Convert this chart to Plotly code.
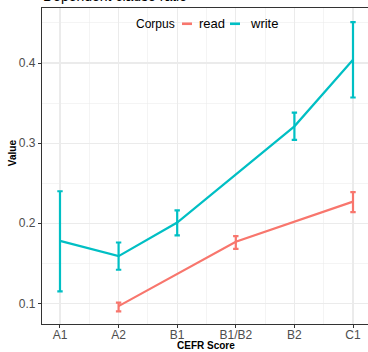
import plotly.graph_objects as go

# ---- data ----
categories = ["A1", "A2", "B1", "B1/B2", "B2", "C1"]

write_levels = ["A1", "A2", "B1", "B2", "C1"]
write_mean = [0.178, 0.159, 0.201, 0.321, 0.404]
write_lo = [0.115, 0.142, 0.185, 0.304, 0.357]
write_hi = [0.240, 0.176, 0.216, 0.338, 0.451]

read_levels = ["A2", "B1/B2", "C1"]
read_mean = [0.0966, 0.177, 0.227]
read_lo = [0.090, 0.168, 0.214]
read_hi = [0.101, 0.184, 0.239]

y_ticks = [0.1, 0.2, 0.3, 0.4]

READ_COL = "#F8766D"
WRITE_COL = "#00BFC4"
FONT = "Liberation Sans, Arial, sans-serif"

W, H = 368, 352
PL, PT, PB = 42, 7.5, 324.3


def xpos(levels):
    return [categories.index(c) + 1 for c in levels]


def trace(levels, mean, lo, hi, color, name):
    return go.Scatter(
        x=xpos(levels), y=mean, mode="lines", name=name,
        line=dict(color=color, width=2.2),
        error_y=dict(type="data", symmetric=False,
                     array=[h - m for h, m in zip(hi, mean)],
                     arrayminus=[m - l for m, l in zip(mean, lo)],
                     color=color, thickness=2.2, width=2.7),
        showlegend=False, hoverinfo="skip",
    )


fig = go.Figure()
fig.add_trace(trace(read_levels, read_mean, read_lo, read_hi, READ_COL, "read"))
fig.add_trace(trace(write_levels, write_mean, write_lo, write_hi, WRITE_COL, "write"))

pw = W - PL
ph = PB - PT


def px_x(p):
    return (p - PL) / pw


def px_y(p):
    return (PB - p) / ph


axis_common = dict(
    showline=True, linecolor="#333333", linewidth=1.1,
    ticks="outside", ticklen=3, tickcolor="#333333", tickwidth=1,
    showgrid=True, gridcolor="#EBEBEB", gridwidth=1.1,
    zeroline=False, automargin=False,
    tickfont=dict(family=FONT, size=12, color="#4D4D4D"),
)

fig.update_xaxes(
    **axis_common,
    range=[0.693, 6.256],
    tickmode="array", tickvals=list(range(1, len(categories) + 1)), ticktext=categories,
    minor=dict(tickmode="linear", tick0=0.5, dtick=1, showgrid=True,
               gridcolor="#EBEBEB", gridwidth=0.55, ticks=""),
    mirror=True,
    ticklabelstandoff=-4,
)
fig.update_yaxes(
    **axis_common,
    range=[0.0743, 0.4687],
    tickmode="array", tickvals=y_ticks, ticktext=[f"{v:.1f}" for v in y_ticks],
    minor=dict(tickmode="linear", tick0=0.05, dtick=0.1, showgrid=True,
               gridcolor="#EBEBEB", gridwidth=0.55, ticks=""),
)

# legend box (manual, ggplot style)
legend_y = px_y(23.3)
shapes = [
    dict(type="rect", xref="paper", yref="paper", x0=px_x(128), x1=px_x(283),
         y0=px_y(33), y1=px_y(15), fillcolor="white", line=dict(width=0), layer="between"),
    dict(type="line", xref="paper", yref="paper", x0=px_x(182), x1=px_x(192),
         y0=legend_y, y1=legend_y, line=dict(color=READ_COL, width=2.6)),
    dict(type="line", xref="paper", yref="paper", x0=px_x(230), x1=px_x(240),
         y0=legend_y, y1=legend_y, line=dict(color=WRITE_COL, width=2.6)),
]
annotations = [
    dict(text="Corpus", xref="paper", yref="paper", x=px_x(134), y=legend_y,
         xanchor="left", yanchor="middle", showarrow=False,
         font=dict(family=FONT, size=12, color="black")),
    dict(text="read", xref="paper", yref="paper", x=px_x(197), y=legend_y,
         xanchor="left", yanchor="middle", showarrow=False,
         font=dict(family=FONT, size=13, color="black")),
    dict(text="write", xref="paper", yref="paper", x=px_x(248), y=legend_y,
         xanchor="left", yanchor="middle", showarrow=False,
         font=dict(family=FONT, size=13, color="black")),
    dict(text="<b>Value</b>", xref="paper", yref="paper", x=px_x(12), y=px_y(153),
         xanchor="center", yanchor="middle", textangle=-90, showarrow=False,
         font=dict(family=FONT, size=10, color="black")),
    dict(text="<b>CEFR Score</b>", xref="paper", yref="paper", x=px_x(206), y=px_y(346),
         xanchor="center", yanchor="middle", showarrow=False,
         font=dict(family=FONT, size=10, color="black")),
    dict(text="Dependent clause ratio", xref="paper", yref="paper", x=px_x(41), y=1,
         xanchor="left", yanchor="bottom", yshift=2, showarrow=False,
         font=dict(family=FONT, size=14, color="black")),
]

fig.update_layout(
    width=W, height=H,
    margin=dict(l=PL, r=0, t=PT, b=H - PB),
    plot_bgcolor="white", paper_bgcolor="white",
    shapes=shapes, annotations=annotations,
    showlegend=False, hovermode=False,
)

fig.write_html("out.html", config={"displayModeBar": False, "staticPlot": True})

# remove the browser's default page margin so the figure sits at the window's corner
with open("out.html", encoding="utf-8") as f:
    html = f.read()
html = html.replace("<head>", "<head><style>html,body{margin:0;padding:0;overflow:hidden;}</style>", 1)
with open("out.html", "w", encoding="utf-8") as f:
    f.write(html)
